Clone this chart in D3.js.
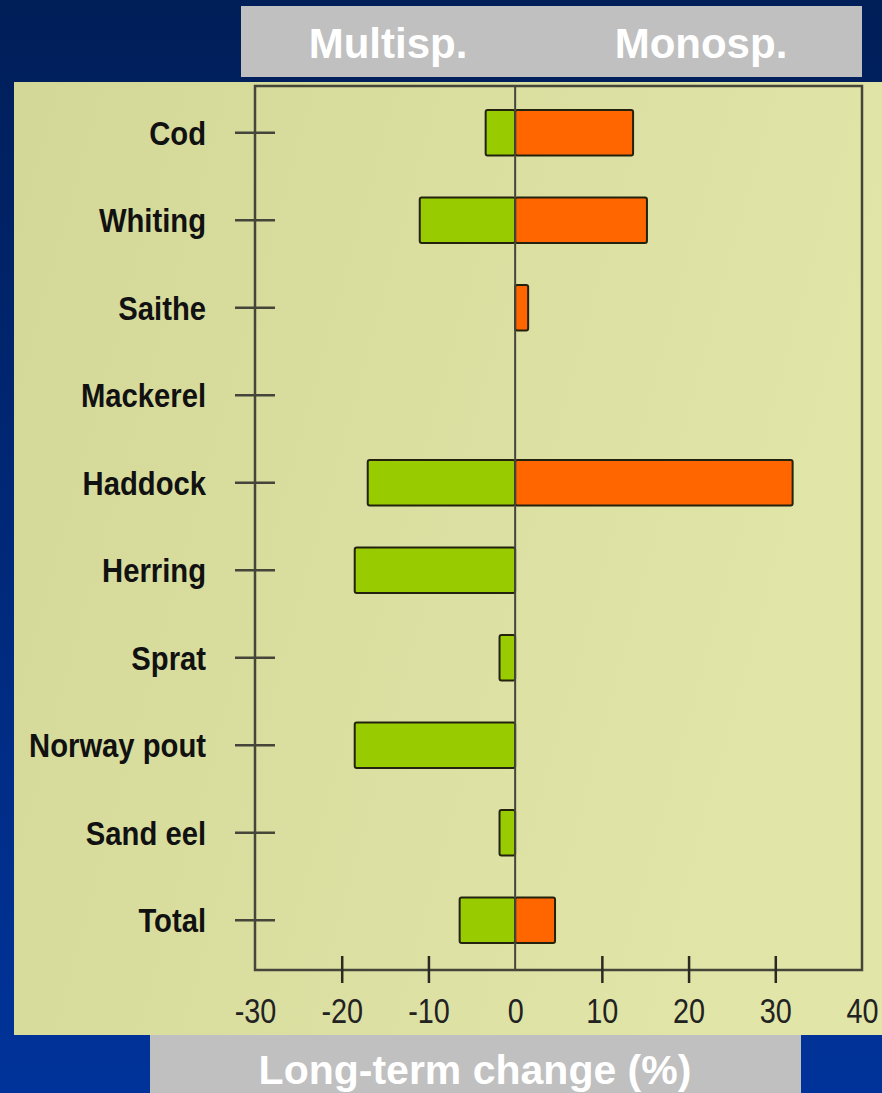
<!DOCTYPE html>
<html>
<head>
<meta charset="utf-8">
<script src="https://cdn.jsdelivr.net/npm/d3@7"></script>
<style>
  html, body { margin: 0; padding: 0; background: #002a7a; }
  svg { display: block; font-family: "Liberation Sans", Arial, sans-serif; }
</style>
</head>
<body>
<script>
(function(){

//chart data
var species = ["Cod", "Whiting", "Saithe", "Mackerel", "Haddock", "Herring", "Sprat", "Norway pout", "Sand eel", "Total"];
var multisp = [-3.4, -11.0, 0, 0, -17.0, -18.5, -1.8, -18.5, -1.8, -6.4];
var monosp = [13.6, 15.2, 1.5, 0, 32.0, 0, 0, 0, 0, 4.6];
var xTicks = [-30, -20, -10, 0, 10, 20, 30, 40];
var headers = ["Multisp.", "Monosp."];
var xTitle = "Long-term change (%)";

window.onload = drawChart();

function drawChart(){
    var width = 882,
        height = 1093;

    var svg = d3.select("body")
      .append("svg")
      .attr("width", width)
      .attr("height", height);

    var defs = svg.append("defs");

    //slide background
    var bg = defs.append("linearGradient")
      .attr("id", "bgGrad")
      .attr("x1", 0).attr("y1", 0).attr("x2", 0).attr("y2", 1);
    bg.append("stop").attr("offset", "0%").attr("stop-color", "#001e58");
    bg.append("stop").attr("offset", "100%").attr("stop-color", "#00339a");

    //yellowish panel
    var panel = defs.append("linearGradient")
      .attr("id", "panelGrad")
      .attr("x1", 0).attr("y1", 0).attr("x2", 1).attr("y2", 0.3);
    panel.append("stop").attr("offset", "0%").attr("stop-color", "#d3d898");
    panel.append("stop").attr("offset", "100%").attr("stop-color", "#e1e5a8");

    svg.append("rect")
      .attr("width", width)
      .attr("height", height)
      .attr("fill", "url(#bgGrad)");

    svg.append("rect")
      .attr("x", 14).attr("y", 82)
      .attr("width", width - 14).attr("height", 953)
      .attr("fill", "url(#panelGrad)");

    //header box
    svg.append("rect")
      .attr("x", 241).attr("y", 6)
      .attr("width", 621).attr("height", 71)
      .attr("fill", "#c0c0c0");

    svg.selectAll(".header")
      .data(headers)
      .enter()
      .append("text")
      .attr("class", "header")
      .attr("x", function(d, i){ return i == 0 ? 388 : 701; })
      .attr("y", 58)
      .attr("text-anchor", "middle")
      .attr("fill", "#ffffff")
      .style("font-size", "42px")
      .style("font-weight", "bold")
      .text(function(d){ return d; });

    //bottom title box
    svg.append("rect")
      .attr("x", 150).attr("y", 1035)
      .attr("width", 651).attr("height", 58)
      .attr("fill", "#c0c0c0");

    svg.append("text")
      .attr("x", 475)
      .attr("y", 1084)
      .attr("text-anchor", "middle")
      .attr("fill", "#ffffff")
      .style("font-size", "41px")
      .style("font-weight", "bold")
      .text(xTitle);

    //scales
    var x = d3.scaleLinear()
      .domain([-30, 40])
      .range([255, 862]);

    var y = d3.scaleBand()
      .domain(species)
      .range([89, 964])
      .paddingInner(0.48)
      .paddingOuter(0.24);

    var frameTop = 86,
        frameBottom = 970;

    //bars
    var rows = species.map(function(d, i){
      return {name: d, multi: multisp[i], mono: monosp[i]};
    });

    var barG = svg.append("g");

    barG.selectAll(".multi")
      .data(rows.filter(function(d){ return d.multi != 0; }))
      .enter()
      .append("rect")
      .attr("class", "multi")
      .attr("x", function(d){ return x(Math.min(0, d.multi)); })
      .attr("y", function(d){ return y(d.name); })
      .attr("width", function(d){ return Math.abs(x(d.multi) - x(0)); })
      .attr("height", y.bandwidth())
      .attr("rx", 2)
      .attr("fill", "#99cc00")
      .attr("stroke", "#22220f")
      .attr("stroke-width", 2);

    barG.selectAll(".mono")
      .data(rows.filter(function(d){ return d.mono != 0; }))
      .enter()
      .append("rect")
      .attr("class", "mono")
      .attr("x", function(d){ return x(Math.min(0, d.mono)); })
      .attr("y", function(d){ return y(d.name); })
      .attr("width", function(d){ return Math.abs(x(d.mono) - x(0)); })
      .attr("height", y.bandwidth())
      .attr("rx", 2)
      .attr("fill", "#ff6600")
      .attr("stroke", "#22220f")
      .attr("stroke-width", 2);

    //zero line
    svg.append("line")
      .attr("x1", x(0)).attr("x2", x(0))
      .attr("y1", frameTop).attr("y2", frameBottom)
      .attr("stroke", "#45453a")
      .attr("stroke-width", 2);

    //plot frame
    svg.append("rect")
      .attr("x", x(-30)).attr("y", frameTop)
      .attr("width", x(40) - x(-30))
      .attr("height", frameBottom - frameTop)
      .attr("fill", "none")
      .attr("stroke", "#45453a")
      .attr("stroke-width", 2.5);

    //y axis
    var yAxis = svg.append("g")
      .attr("transform", "translate(" + x(-30) + ",0)")
      .call(d3.axisLeft(y).tickSize(0).tickPadding(0));

    yAxis.select(".domain").remove();
    yAxis.selectAll(".tick line")
      .attr("x1", -20).attr("x2", 20)
      .attr("stroke", "#45453a")
      .attr("stroke-width", 2.5);
    yAxis.selectAll(".tick text")
      .attr("x", -49 / 0.86)
      .attr("dy", "0.36em")
      .attr("transform", "scale(0.86,1)")
      .attr("fill", "#111111")
      .style("font-family", "'Liberation Sans', Arial, sans-serif")
      .style("font-size", "34px")
      .style("font-weight", "bold");

    //x axis
    var xAxis = svg.append("g")
      .attr("transform", "translate(0," + frameBottom + ")")
      .call(d3.axisBottom(x).tickValues(xTicks).tickSize(0).tickFormat(d3.format("d")));

    xAxis.select(".domain").remove();
    //ticks cross the axis, but not at the frame corners or the zero line
    xAxis.selectAll(".tick line")
      .attr("y1", -14).attr("y2", 13)
      .attr("stroke", "#2a2a22")
      .attr("stroke-width", 2.5)
      .style("display", function(d){ return (d == -30 || d == 0 || d == 40) ? "none" : null; });
    xAxis.selectAll(".tick text")
      .attr("y", 53)
      .attr("dy", 0)
      .attr("transform", "scale(0.8,1)")
      .attr("x", 0)
      .attr("fill", "#222222")
      .style("font-family", "'Liberation Sans', Arial, sans-serif")
      .style("font-size", "36px")
      .text(function(d){ return d < 0 ? "-" + Math.abs(d) : d; });
};

})();
</script>
</body>
</html>
